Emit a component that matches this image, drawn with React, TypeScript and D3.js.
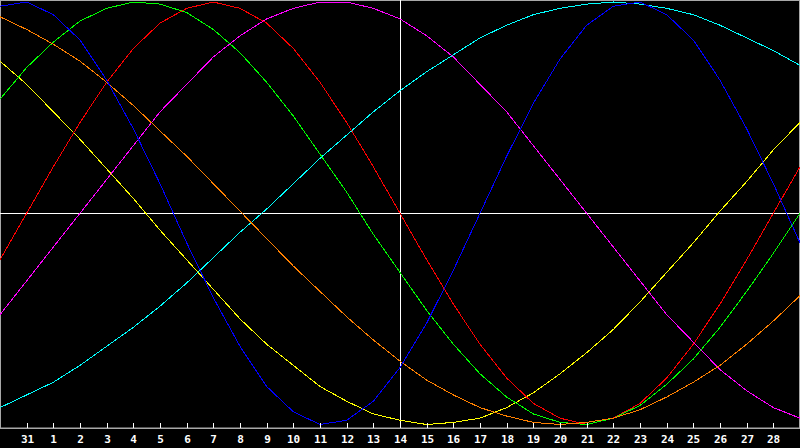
import React from 'react';
import * as d3 from 'd3';

// day labels under the ticks (tick i+1 on the day grid)
const dayLabels = ['31', '1', '2', '3', '4', '5', '6', '7', '8', '9', '10', '11', '12', '13', '14',
  '15', '16', '17', '18', '19', '20', '21', '22', '23', '24', '25', '26', '27', '28'];

// values in % (-100..100), one per day point, 31 points across the plot
const physical = [98, 100, 94, 82, 63, 40, 14, -14, -40, -63, -82, -94, -100, -98, -89, -73,
  -52, -27, 0, 27, 52, 73, 89, 98, 100, 94, 82, 63, 40, 14, -14];
const emotional = [-22, 0, 22, 43, 62, 78, 90, 97, 100, 97, 90, 78, 62, 43, 22, 0,
  -22, -43, -62, -78, -90, -97, -100, -97, -90, -78, -62, -43, -22, 0, 22];
const intellectual = [54, 69, 81, 91, 97, 100, 99, 95, 87, 76, 62, 46, 28, 10, -10, -28,
  -46, -62, -76, -87, -95, -99, -100, -97, -91, -81, -69, -54, -37, -19, 0];
const intuitive = [72, 61, 48, 35, 21, 7, -8, -22, -36, -50, -62, -72, -82, -89, -95, -98,
  -100, -99, -97, -92, -85, -76, -66, -55, -42, -28, -14, 1, 15, 30, 43];
const spiritual = [-92, -86, -80, -72, -63, -54, -44, -33, -21, -9, 2, 14, 26, 37, 48, 58,
  67, 75, 83, 89, 94, 97, 99, 100, 99, 97, 94, 89, 83, 77, 70];
const awareness = [93, 87, 80, 72, 62, 51, 39, 27, 14, 1, -12, -25, -37, -49, -60, -70,
  -79, -86, -92, -96, -99, -100, -99, -97, -93, -87, -80, -72, -62, -51, -39];
const aesthetic = [-48, -32, -16, 0, 16, 32, 48, 61, 74, 84, 92, 97, 100, 100, 97, 92,
  84, 74, 61, 48, 32, 16, 0, -16, -32, -48, -61, -74, -84, -92, -97];

const seriesList = [
  { name: 'spiritual', values: spiritual, color: '#00ffff' },
  { name: 'aesthetic', values: aesthetic, color: '#ff00ff' },
  { name: 'intuitive', values: intuitive, color: '#ffff00' },
  { name: 'emotional', values: emotional, color: '#ff0000' },
  { name: 'intellectual', values: intellectual, color: '#00ff00' },
  { name: 'awareness', values: awareness, color: '#ff8000' },
  { name: 'physical', values: physical, color: '#0000ff' },
];

const W = 800;
const H = 448;
const axisY = 428;
const todayIndex = 15;

export default function App() {
  const x = d3.scaleLinear().domain([0, 30]).range([0, W]);
  const y = d3.scaleLinear().domain([-100, 100]).range([424.5, 2]);

  const line = d3.line<number>()
    .x((_, i) => x(i))
    .y(d => y(d));

  return (
    <svg width={W} height={H} style={{ position: 'fixed', left: 0, top: 0, background: '#000' }}>
      <rect x={0} y={0} width={W} height={H} fill="#000" />
      {/* frame */}
      <rect x={0.5} y={0.5} width={W - 1} height={axisY - 0.5} fill="none" stroke="#a8a8a8" strokeWidth={1} />
      {/* crosshair: zero line and today */}
      <line x1={0} x2={W} y1={Math.round(y(0)) + 0.5} y2={Math.round(y(0)) + 0.5} stroke="#fff" strokeWidth={1} />
      <line x1={x(todayIndex) + 0.5} x2={x(todayIndex) + 0.5} y1={0} y2={axisY} stroke="#fff" strokeWidth={1} />

      {seriesList.map(s => (
        <path key={s.name} d={line(s.values) || ''} fill="none" stroke={s.color} strokeWidth={1}
          shapeRendering="crispEdges" />
      ))}

      {/* bottom axis */}
      <line x1={0} x2={W} y1={axisY + 0.5} y2={axisY + 0.5} stroke="#a8a8a8" strokeWidth={1} />
      {dayLabels.map((lab, i) => {
        const tx = Math.round(x(i + 1)) + 0.5;
        return (
          <g key={lab + i}>
            <line x1={tx} x2={tx} y1={axisY - 5} y2={axisY} stroke="#fff" strokeWidth={1} />
            <text x={tx} y={443} fill="#fff" textAnchor="middle"
              style={{ font: 'bold 11px "DejaVu Sans Mono", monospace' }}>{lab}</text>
          </g>
        );
      })}
    </svg>
  );
}
